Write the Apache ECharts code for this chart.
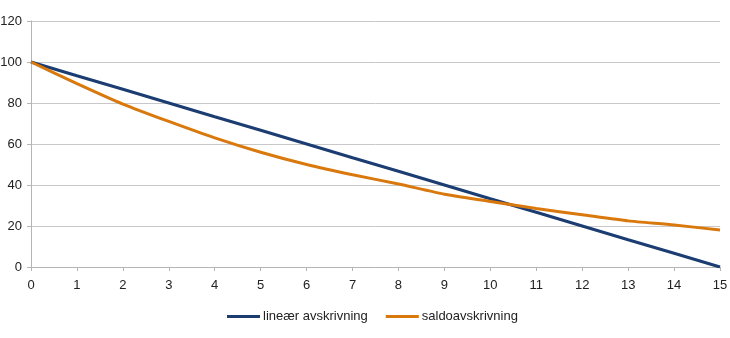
<!DOCTYPE html>
<html><head><meta charset="utf-8">
<script src="https://cdn.jsdelivr.net/npm/echarts@6/dist/echarts.min.js"></script>
<style>html,body{margin:0;padding:0;background:#fff}#c{width:730px;height:338px}</style>
</head><body><div id="c"></div>
<script>
const years = ['0','1','2','3','4','5','6','7','8','9','10','11','12','13','14','15'];
const linear = [100, 93.3, 86.7, 80, 73.3, 66.7, 60, 53.3, 46.7, 40, 33.3, 26.7, 20, 13.3, 6.7, 0];
const saldo = [100, 89.5, 79.5, 71, 63, 56, 50, 45, 40.5, 35.5, 32, 28.5, 25.5, 22.5, 20.5, 18];
const yTicks = {min: 0, max: 120, interval: 20};

const chart = echarts.init(document.getElementById('c'), null, {renderer: 'canvas'});
const font = 'Liberation Sans, Arial, sans-serif';
chart.setOption({
  animation: false,
  textStyle: {fontFamily: font},
  grid: {left: 31, right: 10, top: 21, bottom: 71, containLabel: false, outerBoundsMode: 'none'},
  legend: {
    top: 305, left: 222, itemWidth: 33, itemHeight: 3, itemGap: 18,
    icon: 'rect',
    textStyle: {fontFamily: font, fontSize: 13, color: '#222', padding: [0, 0, 0, -2]},
    data: ['lineær avskrivning', 'saldoavskrivning']
  },
  xAxis: {
    type: 'category', data: years, boundaryGap: false,
    axisLine: {lineStyle: {color: '#b5b5b5', width: 1}},
    axisTick: {show: true, length: 4, lineStyle: {color: '#b5b5b5'}},
    axisLabel: {fontFamily: font, fontSize: 13, color: '#222', margin: 12},
    splitLine: {show: false}
  },
  yAxis: {
    type: 'value', min: yTicks.min, max: yTicks.max, interval: yTicks.interval,
    axisLine: {show: true, lineStyle: {color: '#b5b5b5', width: 1}},
    axisTick: {show: true, length: 4, lineStyle: {color: '#b5b5b5'}},
    axisLabel: {fontFamily: font, fontSize: 13, color: '#222', margin: 9},
    splitLine: {lineStyle: {color: '#c8c8c8', width: 1}}
  },
  series: [
    {name: 'lineær avskrivning', type: 'line', data: linear, showSymbol: false,
     lineStyle: {color: '#1c3d72', width: 3}, itemStyle: {color: '#1c3d72'}},
    {name: 'saldoavskrivning', type: 'line', data: saldo, showSymbol: false, smooth: 0.2,
     lineStyle: {color: '#d9780d', width: 3}, itemStyle: {color: '#d9780d'}}
  ]
});
</script></body></html>
